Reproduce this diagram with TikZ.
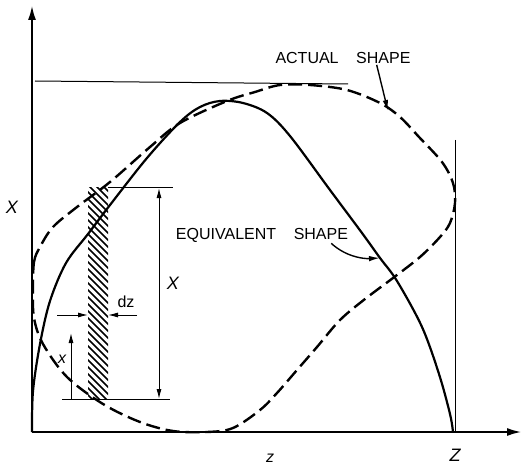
\documentclass[tikz,border=0pt]{standalone}
\usepackage{fontspec}
\setmainfont{Liberation Sans}
\usetikzlibrary{arrows.meta,calc}

\begin{document}
\begin{tikzpicture}[
  x=1pt, y=-1pt,
  axis/.style={line width=2.4pt, -{Latex[length=15pt,width=8pt]}},
  actualline/.style={line width=2.4pt, dash pattern=on 14pt off 6pt},
  equivline/.style={line width=2.2pt},
  thinline/.style={line width=1pt},
  dimarrow/.style={line width=1pt, -{Latex[length=10pt,width=5pt]}},
  callout/.style={line width=1.4pt, -{Latex[length=11pt,width=5.5pt]}},
  lbl/.style={font=\fontsize{16}{18}\selectfont, inner sep=1pt},
  sym/.style={font=\fontsize{18}{20}\selectfont\itshape, inner sep=1pt}
]
\useasboundingbox (0,0) rectangle (525,468);

\coordinate (origin) at (32,432);
\coordinate (ytop) at (32,5);
\coordinate (xend) at (522,432);
\draw[axis] (origin) -- (ytop);
\draw[axis] (origin) -- (xend);

\draw[thinline] (35,81) -- (348,84);
\draw[thinline] (455,140) -- (455,432);

\draw[equivline] plot[smooth, tension=0.55] coordinates {
  (32,432) (33,391) (40,344) (50,301) (66,263) (88,234) (110,205)
  (147,158) (180,122) (200,107) (220,101) (243,103) (267,113) (290,136)
  (330,190) (362,233) (380,258) (397,281) (422,327) (439,374)
  (450,414) (453,432)};

\draw[actualline] plot[smooth cycle, tension=0.55] coordinates {
  (33,290) (34,262) (40,247) (53,227) (77,207) (110,182) (150,147) (180,123)
  (227,101) (255,92) (280,85) (310,85) (347,90) (380,103) (400,117) (419,137)
  (442,162) (453,183) (455,203) (450,223) (440,237) (420,257) (393,278)
  (365,299) (340,320) (317,347) (297,370) (277,393) (260,410)
  (233,428) (207,432) (173,431) (140,422) (103,404) (67,377) (43,344) (34,318)};

\begin{scope}
  \clip (88,188) rectangle (108,399);
  \foreach \k in {0,...,34}
    \draw[line width=1.6pt] (84,160+7*\k) -- ++(34,34);
\end{scope}

\coordinate (stripTop) at (108,188);
\coordinate (stripBot) at (62,399);
\coordinate (dimTop) at (173,188);
\coordinate (dimBot) at (170,399);
\draw[thinline] (stripTop) -- (dimTop);
\draw[thinline] (stripBot) -- (dimBot);
\draw[dimarrow] (159,294) -- (159,188);
\draw[dimarrow] (159,294) -- (159,399);
\draw[dimarrow] (71,399) -- (71,333);
\draw[dimarrow] (57,315) -- (88,315);
\draw[dimarrow] (137,315) -- (108,315);

\node[sym] (Xaxis) at (12,207) {X};
\node[sym] (Xdim) at (173,283) {X};
\node[sym, font=\fontsize{16}{18}\selectfont\itshape] (xlbl) at (62,359) {x};
\node[lbl] (dz) at (126,302) {dz};
\node[sym] (Zlbl) at (455,455) {Z};
\node[sym, font=\fontsize{16}{18}\selectfont\itshape] (zlbl) at (270,458) {z};

\node[lbl] (actual) at (343,58) {ACTUAL\hspace{1.1em}SHAPE};
\node[lbl] (equiv) at (262,235) {EQUIVALENT\hspace{1.1em}SHAPE};

\coordinate (actualTip) at (388,111);
\coordinate (equivTip) at (380,258);
\draw[callout] ([xshift=-35pt]actual.south east) -- (actualTip);
\draw[callout] ([xshift=-18pt]equiv.south east) .. controls (345,256) and (362,259) .. (equivTip);
\end{tikzpicture}
\end{document}
